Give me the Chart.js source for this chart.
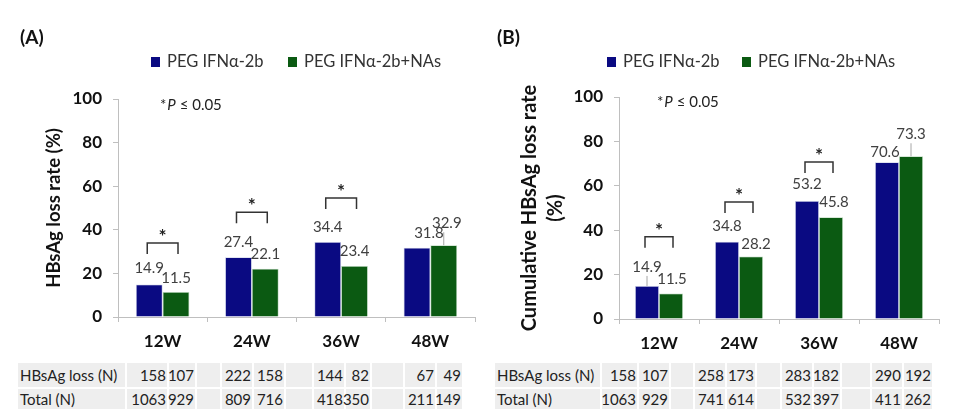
<!DOCTYPE html>
<html>
<head>
<meta charset="utf-8">
<script src="https://cdn.jsdelivr.net/npm/chart.js@4.4.1/dist/chart.umd.min.js"></script>
<style>
  html, body { margin: 0; padding: 0; background: #fff; }
  body { width: 960px; height: 413px; position: relative; overflow: hidden; font-family: Lato, "Open Sans", sans-serif; }
  canvas { position: absolute; top: 0; }
  .cell { position: absolute; background: #eeeeee; font-size: 15px; color: #222; box-sizing: border-box; line-height: 1; display: flex; align-items: center; }
  .num { justify-content: flex-end; padding-right: 1px; }
  .lab { padding-left: 2px; }
</style>
</head>
<body>
<canvas id="chartA" width="480" height="360" style="left:0px"></canvas>
<canvas id="chartB" width="480" height="360" style="left:480px"></canvas>
<div id="tables"></div>
<script>
// ---------- data ----------
const categories = ['12W', '24W', '36W', '48W'];
const seriesNames = ['PEG IFNα-2b', 'PEG IFNα-2b+NAs'];
const yTicks = [0, 20, 40, 60, 80, 100];

// Panel A: HBsAg loss rate (%)
const lossRateIFN = [14.9, 27.4, 34.4, 31.8];
const lossRateIFNNAs = [11.5, 22.1, 23.4, 32.9];
const sigA = [true, true, true, false];
const bracketA = [34, 48, 54.6, null];

// Panel B: cumulative HBsAg loss rate (%)
const cumRateIFN = [14.9, 34.8, 53.2, 70.6];
const cumRateIFNNAs = [11.5, 28.2, 45.8, 73.3];
const sigB = [true, true, true, false];
const bracketB = [37, 52.7, 70.7, null];

// Tables
const tableRowLabels = ['HBsAg loss (N)', 'Total (N)'];
const lossNA_IFN = [158, 222, 144, 67];
const lossNA_NAs = [107, 158, 82, 49];
const totalA_IFN = [1063, 809, 418, 211];
const totalA_NAs = [929, 716, 350, 149];
const lossNB_IFN = [158, 258, 283, 290];
const lossNB_NAs = [107, 173, 182, 192];
const totalB_IFN = [1063, 741, 532, 411];
const totalB_NAs = [929, 614, 397, 262];

// ---------- styles ----------
const BLUE = '#0a0a82';
const GREEN = '#0b5a12';
const AXIS = '#bfbfbf';
const FONT = 'Lato, "Open Sans", sans-serif';

// label nudges (pixels): [series][category]
const nudgeA = {
  dy: [[16.5, 15, 15, 15], [14, 15, 15, 22]],
  dx: [[0, 0, 0, 12], [0, 0, 0, 3]],
  leader: [[false, false, false, false], [false, false, false, true]]
};
const nudgeB = {
  dy: [[19, 16, 17, 10], [14.5, 12, 15, 22]],
  dx: [[0, 0, 0, -2], [1, 5, 3, 0]],
  leader: [[true, false, false, false], [false, false, false, true]]
};

function decoPlugin(cfg) {
  return {
    id: 'deco' + cfg.tag,
    afterDraw(chart) {
      const ctx = chart.ctx;
      const y = chart.scales.y;
      ctx.save();
      // panel letter
      ctx.fillStyle = '#111';
      ctx.font = 'bold 19px ' + FONT;
      ctx.textBaseline = 'middle';
      ctx.textAlign = 'left';
      ctx.fillText(cfg.letter, cfg.letterX, 38);
      // legend
      ctx.font = '16.5px ' + FONT;
      cfg.legendX.forEach((lx, i) => {
        ctx.fillStyle = chart.data.datasets[i].backgroundColor;
        ctx.fillRect(lx, 57, 9, 10);
        ctx.fillStyle = '#333';
        ctx.fillText(chart.data.datasets[i].label, lx + 16, 62);
      });
      // p note
      ctx.fillStyle = '#222';
      ctx.font = '15px ' + FONT;
      let px = cfg.pX;
      ctx.fillText('*', px, cfg.pY); px += ctx.measureText('*').width + 1;
      ctx.font = 'italic 15px ' + FONT;
      ctx.fillText('P', px, cfg.pY); px += ctx.measureText('P').width;
      ctx.font = '15px ' + FONT;
      ctx.fillText(' ≤ 0.05', px, cfg.pY);
      // value labels
      ctx.font = '15px ' + FONT;
      ctx.textAlign = 'center';
      chart.data.datasets.forEach((ds, i) => {
        const meta = chart.getDatasetMeta(i);
        meta.data.forEach((bar, j) => {
          const lx = bar.x + cfg.nudge.dx[i][j];
          const ly = bar.y - cfg.nudge.dy[i][j];
          ctx.fillStyle = '#404040';
          ctx.fillText(ds.data[j].toFixed(1), lx, ly);
          if (cfg.nudge.leader[i][j]) {
            ctx.strokeStyle = '#a6a6a6';
            ctx.lineWidth = 1;
            ctx.beginPath();
            ctx.moveTo(bar.x, ly + 9);
            ctx.lineTo(bar.x, bar.y);
            ctx.stroke();
          }
        });
      });
      // significance brackets
      const m0 = chart.getDatasetMeta(0), m1 = chart.getDatasetMeta(1);
      ctx.strokeStyle = '#333';
      ctx.lineWidth = 1.5;
      ctx.fillStyle = '#222';
      ctx.font = 'bold 19px ' + FONT;
      cfg.sig.forEach((s, j) => {
        if (!s) return;
        const x1 = m0.data[j].x - 2, x2 = m1.data[j].x + 2;
        const yt = y.getPixelForValue(cfg.bracket[j]);
        ctx.beginPath();
        ctx.moveTo(x1, yt + 11);
        ctx.lineTo(x1, yt);
        ctx.lineTo(x2, yt);
        ctx.lineTo(x2, yt + 11);
        ctx.stroke();
        ctx.fillText('*', (x1 + x2) / 2, yt - 6);
      });
      ctx.restore();
    }
  };
}

function makeChart(id, d1, d2, opts) {
  return new Chart(document.getElementById(id), {
    type: 'bar',
    data: {
      labels: categories,
      datasets: [
        { label: seriesNames[0], data: d1, backgroundColor: BLUE, borderColor: '#c9cde6', borderWidth: 0.8 },
        { label: seriesNames[1], data: d2, backgroundColor: GREEN, borderColor: '#b8d6bb', borderWidth: 0.8 }
      ]
    },
    options: {
      responsive: false,
      animation: false,
      events: [],
      layout: { padding: { left: 0, right: opts.padRight, top: opts.padTop, bottom: 0 } },
      datasets: { bar: { categoryPercentage: 0.6, barPercentage: 1.0 } },
      plugins: { legend: { display: false }, tooltip: { enabled: false } },
      scales: {
        x: {
          grid: { drawOnChartArea: false, drawTicks: true, tickLength: 5, color: AXIS, offset: true },
          border: { color: AXIS, width: 1 },
          ticks: { color: '#111', font: { family: FONT, size: 17, weight: 'bold' }, padding: 9, maxRotation: 0 },
          afterFit(scale) { scale.height = 360 - opts.bottom; }
        },
        y: {
          min: 0, max: 100,
          afterBuildTicks(scale) { scale.ticks = yTicks.map(v => ({ value: v })); },
          grid: { drawOnChartArea: false, drawTicks: true, tickLength: 5, color: AXIS },
          border: { color: AXIS, width: 1 },
          ticks: { color: '#111', font: { family: FONT, size: 17, weight: 'bold' }, padding: 11 },
          title: {
            display: true, text: opts.yTitle, color: '#111',
            font: { family: FONT, size: opts.titleSize, weight: 'bold', lineHeight: opts.titleLH },
            padding: { top: opts.titlePad, bottom: 0 }
          },
          afterFit(scale) { scale.width = opts.left; }
        }
      }
    },
    plugins: [decoPlugin(opts.deco)]
  });
}

makeChart('chartA', lossRateIFN, lossRateIFNNAs, {
  padRight: 5, padTop: 99, bottom: 317, left: 118, yTitle: 'HBsAg loss rate (%)', titleSize: 18.5, titleLH: 1.2, titlePad: 43,
  deco: { tag: 'A', letter: '(A)', letterX: 20, legendX: [151, 288], pX: 160, pY: 105, sig: sigA, bracket: bracketA, nudge: nudgeA }
});
makeChart('chartB', cumRateIFN, cumRateIFNNAs, {
  padRight: 21, padTop: 97, bottom: 319, left: 139, yTitle: ['Cumulative HBsAg loss rate', '(%)'], titleSize: 20, titleLH: 1.3, titlePad: 37,
  deco: { tag: 'B', letter: '(B)', letterX: 17, legendX: [127, 262], pX: 177, pY: 102, sig: sigB, bracket: bracketB, nudge: nudgeB }
});

// ---------- tables ----------
function buildTable(left, labelRight, rights, tableRight, rows) {
  const host = document.getElementById('tables');
  const rowBoxes = [[363, 24], [389, 20]];
  rows.forEach((row, r) => {
    const [top, h] = rowBoxes[r];
    const add = (x0, x1, text, cls) => {
      const d = document.createElement('div');
      d.className = 'cell ' + cls;
      d.style.left = x0 + 'px'; d.style.top = top + 'px';
      d.style.width = (x1 - x0) + 'px'; d.style.height = h + 'px';
      d.textContent = text;
      host.appendChild(d);
    };
    add(left, labelRight, tableRowLabels[r], 'lab');
    let prev = labelRight + 2;
    rights.forEach((pair, k) => {
      const v1Left = k === 0 ? prev : pair[0] - 28;
      if (k > 0) add(prev, v1Left - 2, '', '');
      add(v1Left, pair[0] + 2, String(row[0][k]), 'num');
      add(pair[0] + 4, pair[1] + 2, String(row[1][k]), 'num');
      prev = pair[1] + 4;
    });
  });
}
buildTable(18, 125, [[165, 193], [250, 282], [342, 368], [433, 460]], 462,
  [[lossNA_IFN, lossNA_NAs], [totalA_IFN, totalA_NAs]]);
buildTable(495, 600, [[635, 667], [723, 753], [810, 838], [900, 930]], 933,
  [[lossNB_IFN, lossNB_NAs], [totalB_IFN, totalB_NAs]]);
</script>
</body>
</html>
